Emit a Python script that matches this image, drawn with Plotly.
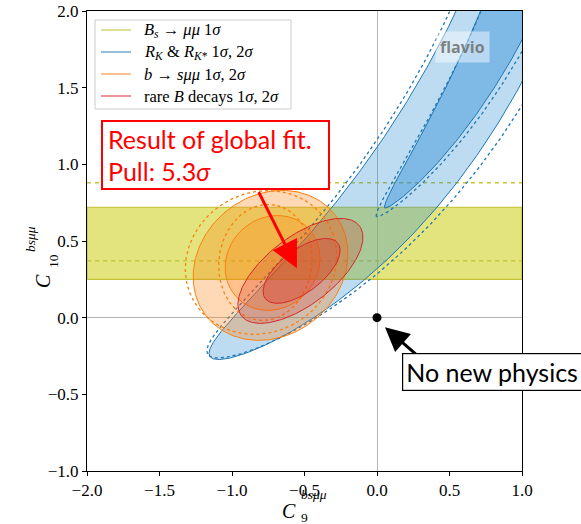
import numpy as np
import plotly.graph_objects as go

# ---------------- data ----------------
x_range = [-2.0, 1.0]
y_range = [-1.0, 2.0]
x_ticks = [-2.0, -1.5, -1.0, -0.5, 0.0, 0.5, 1.0]
y_ticks = [-1.0, -0.5, 0.0, 0.5, 1.0, 1.5, 2.0]

# Bs -> mu mu : 1 sigma band in C10 (solid) and alternative (dashed)
bs_band = [0.25, 0.72]
bs_band_dashed = [0.37, 0.88]

# R_K & R_K* : curved likelihood contours
# axis: anchor x, anchor y, direction (deg), curvature
rk_axis = [-0.164, 0.507, 44.5, 0.10]
rk_axis_dashed = [-0.164, 0.507, 43.6, 0.10]
# contour: centre position along axis, half length, half width, tip exponent, sideways shift
rk_1s = [3.0, 2.70, 0.20, 1.25, -0.012]
rk_2s = [1.763, 3.0, 0.310, 1.0, 0.0]
rk_1s_dashed = [3.0, 2.78, 0.218, 1.25, -0.005]
rk_2s_dashed = [3.18, 4.42, 0.399, 1.0, 0.0]

# ellipses: centre x, centre y, semi-major, semi-minor, angle (deg)
bsmm_1s = [-0.72, 0.357, 0.336, 0.30, 30]
bsmm_2s = [-0.734, 0.341, 0.555, 0.465, 30]
bsmm_1s_dashed = [-0.77, 0.36, 0.38, 0.32, 80]
bsmm_2s_dashed = [-0.80, 0.36, 0.53, 0.46, 20]
rare_1s = [-0.52, 0.305, 0.309, 0.141, 35]
rare_2s = [-0.528, 0.305, 0.502, 0.226, 35]

sm_point = [0.0, 0.0]
global_fit_arrow = [-0.821, 0.829, -0.552, 0.322]   # tail x, tail y, head x, head y
sm_arrow = [0.276, -0.245, 0.055, -0.062]

legend_labels = [
    "<i>B<sub>s</sub></i> → <i>μμ</i> 1<i>σ</i>",
    "<i>R<sub>K</sub></i> &amp; <i>R</i><sub><i>K</i>*</sub> 1<i>σ</i>, 2<i>σ</i>",
    "<i>b</i> → <i>sμμ</i> 1<i>σ</i>, 2<i>σ</i>",
    "rare <i>B</i> decays 1<i>σ</i>, 2<i>σ</i>",
]

OLIVE = (188, 189, 34)
BLUE = (31, 119, 180)
BLUE_FILL = (37, 138, 213)
ORANGE = (255, 127, 14)
RED = (214, 39, 40)
legend_colors = [OLIVE, BLUE, ORANGE, RED]


def rgba(c, a):
    return f"rgba({c[0]},{c[1]},{c[2]},{a})"


def ellipse(p, n=300):
    cx, cy, a, b, ang = p
    t = np.linspace(0, 2 * np.pi, n)
    th = np.radians(ang)
    x = cx + a * np.cos(t) * np.cos(th) - b * np.sin(t) * np.sin(th)
    y = cy + a * np.cos(t) * np.sin(th) + b * np.sin(t) * np.cos(th)
    return x, y


def banana(axis, cont, n=900):
    x0, y0, ang, k = axis
    s0, A, B, ex, shift = cont
    th = np.radians(ang)
    d = np.array([np.cos(th), np.sin(th)])
    nv = np.array([-np.sin(th), np.cos(th)])
    phi = np.linspace(0, 2 * np.pi, n)
    s = s0 - A * np.cos(phi)
    off = shift + B * np.sign(np.sin(phi)) * np.abs(np.sin(phi)) ** ex
    w = k * s ** 2
    cx = x0 + s * d[0] + w * nv[0]
    cy = y0 + s * d[1] + w * nv[1]
    tx = d[0] + 2 * k * s * nv[0]
    ty = d[1] + 2 * k * s * nv[1]
    nn = np.hypot(tx, ty)
    Nx, Ny = -ty / nn, tx / nn
    return cx + off * Nx, cy + off * Ny


fig = go.Figure()


def add_fill(xy, fill, alpha, line_col):
    x, y = xy
    fig.add_trace(go.Scatter(
        x=x, y=y, mode="lines", fill="toself",
        fillcolor=rgba(fill, alpha),
        line=dict(color=rgba(line_col, 1), width=1),
        showlegend=False, hoverinfo="skip"))


def add_dashed(xy, color):
    x, y = xy
    fig.add_trace(go.Scatter(
        x=x, y=y, mode="lines",
        line=dict(color=rgba(color, 1), width=1.3, dash="3px,3px"),
        showlegend=False, hoverinfo="skip"))


# Bs -> mu mu band
fig.add_trace(go.Scatter(
    x=[x_range[0], x_range[1], x_range[1], x_range[0], x_range[0]],
    y=[bs_band[0], bs_band[0], bs_band[1], bs_band[1], bs_band[0]],
    mode="lines", fill="toself", fillcolor="rgba(206,206,20,0.55)",
    line=dict(color=rgba(OLIVE, 0.9), width=1.2),
    showlegend=False, hoverinfo="skip"))
for yv in bs_band_dashed:
    fig.add_trace(go.Scatter(
        x=x_range, y=[yv, yv], mode="lines",
        line=dict(color=rgba(OLIVE, 0.9), width=1.3, dash="4px,4px"),
        showlegend=False, hoverinfo="skip"))

# R_K band
add_fill(banana(rk_axis, rk_2s), BLUE_FILL, 0.3, BLUE)
add_fill(banana(rk_axis, rk_1s), BLUE_FILL, 0.42, BLUE)
add_dashed(banana(rk_axis_dashed, rk_2s_dashed), BLUE)
add_dashed(banana(rk_axis_dashed, rk_1s_dashed), BLUE)

# b -> s mu mu
add_fill(ellipse(bsmm_2s), ORANGE, 0.3, ORANGE)
add_fill(ellipse(bsmm_1s), ORANGE, 0.24, ORANGE)
add_dashed(ellipse(bsmm_2s_dashed), ORANGE)
add_dashed(ellipse(bsmm_1s_dashed), ORANGE)

# rare B decays
add_fill(ellipse(rare_2s), RED, 0.22, RED)
add_fill(ellipse(rare_1s), RED, 0.28, RED)

# SM point
fig.add_trace(go.Scatter(x=[sm_point[0]], y=[sm_point[1]], mode="markers",
                         marker=dict(color="black", size=9),
                         showlegend=False, hoverinfo="skip"))

serif = "Liberation Serif, DejaVu Serif, serif"
sans = "Lato, DejaVu Sans, sans-serif"

axis_common = dict(
    showgrid=False, showline=True, linecolor="black", linewidth=1, mirror=True,
    ticks="outside", ticklen=4, tickwidth=1, tickcolor="black",
    zeroline=True, zerolinecolor="#b5b5b5", zerolinewidth=1,
    tickfont=dict(family=serif, size=17, color="black"), tickformat=".1f",
    automargin=False,
)

# ---- pixel layout helpers (plot area of the reference) ----
PLOT_L, PLOT_W, PLOT_B, PLOT_H = 87, 435, 471, 460


def px(xp):
    return (xp - PLOT_L) / PLOT_W


def py(yp):
    return (PLOT_B - yp) / PLOT_H


# legend box
shapes = [dict(type="rect", xref="paper", yref="paper",
               x0=px(95), x1=px(291), y0=py(109), y1=py(20),
               line=dict(color="#cccccc", width=1), fillcolor="rgba(255,255,255,0.85)",
               layer="above")]
legend_ann = []
row_y = [30, 52, 74, 96]
for ry, lab, col in zip(row_y, legend_labels, legend_colors):
    shapes.append(dict(type="line", xref="paper", yref="paper",
                       x0=px(101), x1=px(131), y0=py(ry), y1=py(ry),
                       line=dict(color=rgba(col, 0.6), width=1.6), layer="above"))
    legend_ann.append(dict(text=lab, xref="paper", yref="paper", x=px(142), y=py(ry),
                           xanchor="left", yanchor="middle", showarrow=False,
                           font=dict(family=serif, size=16.5, color="black")))

# axis titles: C with stacked sub- and superscript
title_font = dict(family=serif, size=20, color="black")
script_font = dict(family=serif, size=13.5, color="black")
title_ann = [
    dict(text="<i>C</i>", xref="paper", yref="paper", x=px(298), y=py(511),
         xanchor="right", yanchor="middle", showarrow=False, font=title_font),
    dict(text="9", xref="paper", yref="paper", x=px(299), y=py(517),
         xanchor="left", yanchor="middle", showarrow=False, font=script_font),
    dict(text="<i>bsμμ</i>", xref="paper", yref="paper", x=px(299), y=py(504),
         xanchor="left", yanchor="bottom", showarrow=False, font=script_font),
    dict(text="<i>C</i>", xref="paper", yref="paper", x=px(43), y=py(281),
         xanchor="center", yanchor="middle", textangle=-90, showarrow=False, font=title_font),
    dict(text="10", xref="paper", yref="paper", x=px(53), y=py(261),
         xanchor="center", yanchor="middle", textangle=-90, showarrow=False, font=script_font),
    dict(text="<i>bsμμ</i>", xref="paper", yref="paper", x=px(31), y=py(254),
         xanchor="center", yanchor="bottom", textangle=-90, showarrow=False, font=script_font),
]

fig.update_layout(
    width=581, height=524,
    margin=dict(l=87, r=59, t=11, b=53, autoexpand=False),
    paper_bgcolor="white", plot_bgcolor="white",
    xaxis=dict(range=x_range, tickvals=x_ticks, **axis_common),
    yaxis=dict(range=y_range, tickvals=y_ticks, **axis_common),
    showlegend=False,
    shapes=shapes,
    annotations=legend_ann + title_ann + [
        # arrows
        dict(x=global_fit_arrow[2], y=global_fit_arrow[3], ax=global_fit_arrow[0], ay=global_fit_arrow[1],
             xref="x", yref="y", axref="x", ayref="y", text="", showarrow=True,
             arrowhead=2, arrowsize=1.8, arrowwidth=3, arrowcolor="red", standoff=0),
        dict(x=sm_arrow[2], y=sm_arrow[3], ax=sm_arrow[0], ay=sm_arrow[1],
             xref="x", yref="y", axref="x", ayref="y", text="", showarrow=True,
             arrowhead=2, arrowsize=1.6, arrowwidth=3, arrowcolor="black", standoff=0),
        # text boxes
        dict(text="Result of global fit.<br>Pull: 5.3<i>σ</i>", xref="x", yref="y",
             x=-1.114, y=1.059, showarrow=False, align="left",
             width=215, height=56, borderpad=5,
             bgcolor="white", bordercolor="red", borderwidth=2,
             font=dict(family=sans, size=25, color="red")),
        dict(text="No new physics", xref="x", yref="y",
             x=0.172, y=-0.357, xanchor="left", yanchor="middle", showarrow=False,
             align="left", width=190, borderpad=3, bgcolor="white",
             bordercolor="black", borderwidth=1.2,
             font=dict(family=sans, size=25, color="black")),
        dict(text="<b>flavio</b>", xref="x", yref="y", x=0.593, y=1.766, showarrow=False,
             bgcolor="rgba(255,255,255,0.45)", borderpad=4,
             font=dict(family="Open Sans, DejaVu Sans, sans-serif", size=16,
                       color="rgba(110,110,110,0.85)")),
    ],
)

fig.write_html("out.html")
